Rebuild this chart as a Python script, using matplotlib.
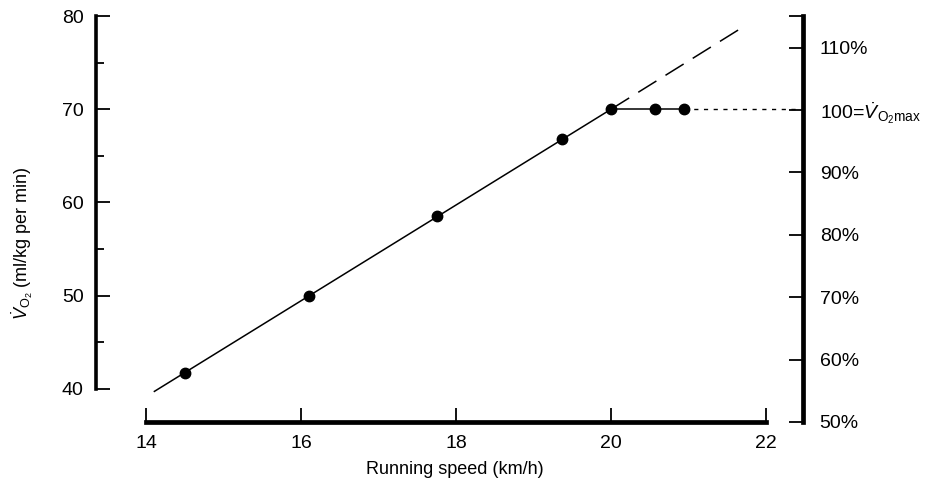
import matplotlib
matplotlib.use("Agg")
import matplotlib.pyplot as plt
from matplotlib.ticker import FixedLocator, NullFormatter

plt.rcParams['font.family'] = ['Liberation Sans', 'DejaVu Sans']
plt.rcParams['mathtext.fontset'] = 'custom'
plt.rcParams['mathtext.rm'] = 'Liberation Sans'
plt.rcParams['mathtext.it'] = 'Liberation Sans:italic'

# Data
speed = [14.5, 16.1, 17.75, 19.37, 20.0, 20.57, 20.94]
vo2 = [41.7, 50.0, 58.5, 66.8, 70.0, 70.0, 70.0]
fit_x = [14.1, 20.0]
fit_y = [39.7, 70.0]
extrap_x = [20.0, 21.68]
extrap_y = [70.0, 78.7]
plateau_x = [20.0, 20.94]
plateau_y = [70.0, 70.0]
max_x = [20.94, 22.48]
max_y = [70.0, 70.0]

xticks = [14, 16, 18, 20, 22]
yticks = [40, 50, 60, 70, 80]
yminor = [45, 55, 65, 75]
pct_ticks = [50, 60, 70, 80, 90, 100, 110]
pct_labels = ['50%', '60%', '70%', '80%', '90%', r'100=$\dot{V}_{\mathrm{O_2 max}}$', '110%']

W, H = 938, 488
fig = plt.figure(figsize=(W / 100, H / 100), dpi=100)
left, right, top, bottom = 96, 803, 16, 422
ax = fig.add_axes([left / W, 1 - bottom / H, (right - left) / W, (bottom - top) / H])
ax.set_xlim(13.355, 22.477)
ax.set_ylim(36.46, 80)

ax.plot(fit_x, fit_y, color='black', lw=1.1, solid_capstyle='butt')
ax.plot(plateau_x, plateau_y, color='black', lw=1.1)
ax.plot(extrap_x, extrap_y, color='black', lw=1.1, dashes=(14, 7))
ax.plot(max_x, max_y, color='black', lw=1.0, dashes=(3, 4))
ax.plot(speed, vo2, 'o', color='black', ms=7.5, zorder=5)

for s in ['top', 'right']:
    ax.spines[s].set_visible(False)
ax.spines['left'].set_bounds(40, 80)
ax.spines['left'].set_linewidth(2.6)
ax.spines['bottom'].set_bounds(14, 22)
ax.spines['bottom'].set_linewidth(3.4)

ax.set_xticks(xticks)
ax.set_xticklabels([str(t) for t in xticks])
ax.set_yticks(yticks)
ax.set_yticklabels([str(t) for t in yticks])
ax.yaxis.set_minor_locator(FixedLocator(yminor))
ax.tick_params(axis='y', which='major', direction='in', length=10, width=1.3, labelsize=14, pad=9)
ax.tick_params(axis='y', which='minor', direction='in', length=6, width=1.3)
ax.tick_params(axis='x', which='major', direction='in', length=10, width=1.3, labelsize=14, pad=9)

ax2 = ax.twinx()
ax2.set_ylim(50, 115.06)
for s in ['top', 'left', 'bottom']:
    ax2.spines[s].set_visible(False)
ax2.spines['right'].set_linewidth(3.4)
ax2.set_yticks(pct_ticks)
ax2.set_yticklabels(pct_labels)
ax2.yaxis.set_minor_locator(FixedLocator([115.06]))
ax2.yaxis.set_minor_formatter(NullFormatter())
ax2.tick_params(axis='y', which='both', direction='in', length=10, width=1.3, labelsize=14, pad=12)

fig.text(455 / W, 1 - 469 / H, 'Running speed (km/h)', ha='center', va='center', fontsize=13)
fig.text(22 / W, 1 - 243 / H, r'$\dot{V}_{\mathrm{O_2}}$ (ml/kg per min)', ha='center', va='center',
         rotation=90, fontsize=13)

fig.savefig('out.png', dpi=100)
